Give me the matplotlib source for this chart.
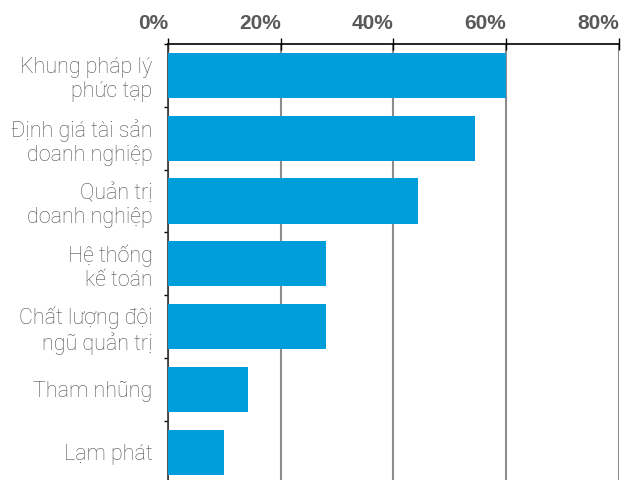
import matplotlib
matplotlib.use("Agg")
import matplotlib.pyplot as plt
import numpy as np

labels = ["Khung pháp lý\nphức tạp", "Định giá tài sản\ndoanh nghiệp",
          "Quản trị\ndoanh nghiệp", "Hệ thống\nkế toán",
          "Chất lượng đội\nngũ quản trị", "Tham nhũng", "Lạm phát"]
values = [60, 54.5, 44.3, 28, 28, 14.2, 10]
xticks = [0, 20, 40, 60, 80]
xtick_labels = ["0%", "20%", "40%", "60%", "80%"]

plt.rcParams['font.family'] = ['Liberation Sans', 'DejaVu Sans']

fig = plt.figure(figsize=(6.21, 4.8), dpi=100)
ax = fig.add_axes([0.2705, -0.0073, 0.9968 - 0.2705, 0.908 + 0.0073])

y = np.arange(len(labels))
ax.barh(y, values, height=0.72, color='#009ddb', zorder=3)

ax.set_xlim(0, 80)
ax.set_ylim(len(labels) - 0.5, -0.5)

ax.set_xticks(xticks)
ax.xaxis.tick_top()
ax.set_xticklabels(xtick_labels, fontsize=15, fontweight='bold', color='#595959', ha='right')
ax.tick_params(axis='x', direction='inout', length=8, width=1, color='black', pad=4)
ax.grid(axis='x', color='#8c8c8c', linewidth=1.5, zorder=1)

ax.set_yticks(y)
ax.set_yticklabels(labels, fontsize=15.5, color='#505050', fontweight='light',
                   family=['Roboto', 'DejaVu Sans'], linespacing=1.2)
ax.tick_params(axis='y', length=0, pad=11)
ax.set_yticks(np.arange(-0.5, len(labels), 1), minor=True)
ax.tick_params(axis='y', which='minor', length=3, width=1, color='black', direction='out')

for s in ['right', 'bottom']:
    ax.spines[s].set_visible(False)
ax.spines['top'].set_color('black')
ax.spines['left'].set_color('#333333')
ax.spines['top'].set_linewidth(1.2)
ax.spines['left'].set_linewidth(1.2)

fig.savefig("out.png", dpi=100)
